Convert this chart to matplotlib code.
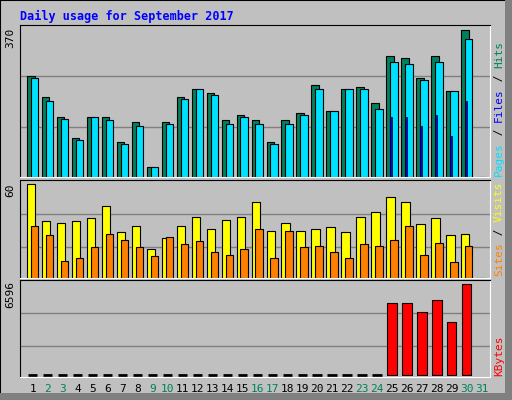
import numpy as np
import matplotlib.pyplot as plt
from matplotlib.patches import Rectangle

days = np.arange(1, 32)
hits = [255, 202, 150, 97, 150, 152, 89, 137, 26, 139, 200, 222, 210, 144, 157, 142,
        89, 144, 160, 230, 167, 222, 225, 185, 303, 300, 250, 303, 217, 370, 0]
files = [250, 192, 147, 94, 150, 142, 84, 129, 24, 132, 195, 220, 207, 134, 152, 134,
         84, 134, 157, 222, 167, 220, 222, 172, 290, 285, 245, 288, 216, 348, 0]
pages = [0] * 24 + [150, 150, 127, 155, 104, 190, 0]
visits = [60, 36.5, 35.2, 36.5, 38.5, 46.3, 29.3, 33.3, 18.3, 25.4, 33.3, 39.1, 31.3, 37.2, 39.1, 48.3,
          30, 35.2, 30, 31.3, 32.6, 29.3, 39.1, 42.4, 51.5, 48.3, 34.6, 38.5, 27.4, 28, 0]
sites = [33.3, 27.4, 11.1, 13, 19.6, 28, 24.1, 19.6, 14.3, 26.1, 21.5, 23.5, 16.3, 15, 18.3, 31.3,
         13, 30, 19.6, 20.2, 16.3, 13, 21.5, 20.2, 24.1, 33.3, 15, 22.2, 10.4, 20.2, 0]
kbytes = [0] * 24 + [5219, 5219, 4566, 5436, 3842, 6596, 0]
weekend = [2, 3, 9, 10, 16, 17, 23, 24, 30, 31]

W, H = 512, 400
BG = '#C0C0C0'
mono = 'DejaVu Sans Mono'

fig = plt.figure(figsize=(W / 100, H / 100), dpi=100, facecolor=BG)
# outer frame + shadow
fig.patches.append(Rectangle((0, 0), 1, 1, transform=fig.transFigure, fill=False, ec='black', lw=1.5))
fig.patches.append(Rectangle((505 / W, 0), 7 / W, 1, transform=fig.transFigure, fc='#808080', ec='none'))
fig.patches.append(Rectangle((0, 0), 1, 7 / H, transform=fig.transFigure, fc='#808080', ec='none'))


def add_ax(top, bottom):
    ax = fig.add_axes([20 / W, 1 - bottom / H, 470 / W, (bottom - top) / H])
    ax.set_facecolor(BG)
    ax.set_xlim(0.15, 31.55)
    ax.set_xticks([])
    ax.set_yticks([])
    for s in ax.spines.values():
        s.set_color('black')
    ax.spines['right'].set_color('white')
    ax.spines['bottom'].set_color('white')
    return ax


fig.text(20 / W, 1 - 16 / H, 'Daily usage for September 2017', color='#0000FF',
         fontsize=8.5, fontweight='bold', family=mono, va='center')

# top panel
ax1 = add_ax(25, 177)
ax1.set_ylim(0, 382)
for g in (125, 253):
    ax1.axhline(g, color='#808080', lw=1, zorder=0)
ax1.bar(days - 0.13, hits, width=0.5, color='#00805C', ec='black', lw=0.8)
ax1.bar(days + 0.13, files, width=0.5, color='#00E0FF', ec='black', lw=0.8)
pd_ = [d for d, p in zip(days, pages) if p > 0]
pv = [p for p in pages if p > 0]
ax1.bar(np.array(pd_) - 0.05, pv, width=0.1, color='#0000FF', ec='black', lw=0.5)
fig.text(10 / W, 1 - 38 / H, '370', rotation=90, fontsize=8, family=mono, ha='center', va='center')

# middle panel
ax2 = add_ax(180, 278)
ax2.set_ylim(0, 62.6)
for g in (19.6, 41):
    ax2.axhline(g, color='#808080', lw=1, zorder=0)
ax2.bar(days - 0.1, visits, width=0.56, color='#FFFF00', ec='black', lw=0.8)
ax2.bar(days + 0.13, sites, width=0.5, color='#FF8000', ec='black', lw=0.8)
fig.text(10 / W, 1 - 190 / H, '60', rotation=90, fontsize=8, family=mono, ha='center', va='center')

# bottom panel
ax3 = add_ax(280, 377)
ax3.set_ylim(-150, 6908)
for g in (2102, 4494):
    ax3.axhline(g, color='#808080', lw=1, zorder=0)
kb_days = [d for d, k in zip(days, kbytes) if k > 0]
kb_vals = [k for k in kbytes if k > 0]
ax3.bar(kb_days, kb_vals, width=0.62, color='#FF0000', ec='black', lw=0.8)
zero_days = [d for d, k in zip(days[:30], kbytes[:30]) if k == 0]
ax3.hlines([0] * len(zero_days), np.array(zero_days) - 0.31, np.array(zero_days) + 0.31,
           color='black', lw=2)
fig.text(10 / W, 1 - 295 / H, '6596', rotation=90, fontsize=8, family=mono, ha='center', va='center')

# day labels
for d in days:
    x = 20 / W + (d - 0.15) / 31.4 * 470 / W
    fig.text(x, 1 - 389 / H, str(d), fontsize=8, family=mono, ha='center', va='center',
             color='#00805C' if d in weekend else 'black')

fig.canvas.draw()
renderer = fig.canvas.get_renderer()


def side_label(parts, y_bottom):
    # stack rotated text from bottom up, measuring each piece
    y = y_bottom
    for txt, col in parts:
        t = fig.text(499 / W, y / H, txt, rotation=90, fontsize=8, family=mono,
                     color=col, ha='center', va='bottom')
        ext = t.get_window_extent(renderer)
        y += ext.height


side_label([('Pages', '#00E0FF'), (' / ', 'black'), ('Files', '#0000FF'), (' / ', 'black'),
            ('Hits', '#00805C')], 400 - 176)
side_label([('Sites', '#FF8000'), (' / ', 'black'), ('Visits', '#FFFF00')], 400 - 276)
side_label([('KBytes', '#FF0000')], 400 - 376)

fig.savefig('out.png', dpi=100, facecolor=BG)
